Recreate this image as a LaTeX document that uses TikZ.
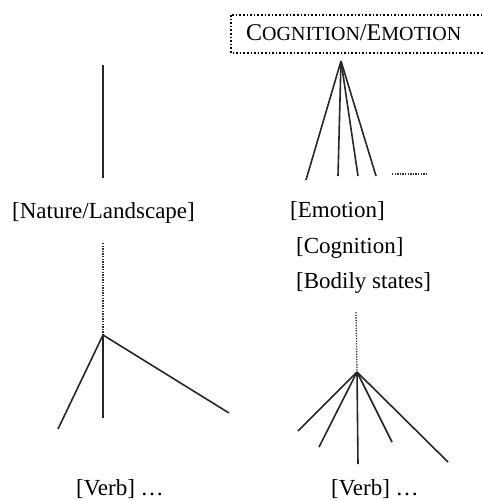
\documentclass[tikz,border=0pt]{standalone}
\usepackage{fontspec}
\setmainfont{Liberation Serif}
\begin{document}
\begin{tikzpicture}[x=1pt,y=-1pt,
    branch/.style={line width=1.6pt, black!85},
    trunk/.style={line width=1.3pt, dash pattern=on 1.3pt off 1.3pt, black!80},
    lbl/.style={font=\fontsize{23}{27}\selectfont, anchor=base west, inner sep=0pt}]
    \useasboundingbox (0,0) rectangle (483,501);

    % Left column: Nature/Landscape
    \coordinate (nt) at (103,65); \coordinate (nb) at (103,178);
    \draw[branch] (nt)--(nb);
    \node[lbl] (nature) at (12,218) {[Nature/Landscape]};

    % Left verb tree
    \coordinate (lt) at (103,243); \coordinate (la) at (103,335);
    \coordinate (l1) at (58,429); \coordinate (l2) at (103,418); \coordinate (l3) at (229,413);
    \draw[trunk] (lt)--(la);
    \draw[branch] (l1)--(la)--(l3);
    \draw[branch] (la)--(l2);
    \node[lbl] (verbl) at (76,495) {[Verb] \dots};

    % Right column: Cognition/Emotion box and its fan
    \draw[line width=1.6pt, dash pattern=on 1.6pt off 2pt] (231,15) rectangle (495,53);
    \node[lbl] (cogemo) at (246,40) {\fontsize{24}{27}\selectfont C\fontsize{20}{23}\selectfont OGNITION\fontsize{24}{27}\selectfont/E\fontsize{20}{23}\selectfont MOTION};
    \coordinate (ca) at (341,61);
    \coordinate (c1) at (306,180); \coordinate (c2) at (338,176);
    \coordinate (c3) at (358,176); \coordinate (c4) at (376,176);
    \foreach \e in {c1,c2,c3,c4} \draw[branch] (ca)--(\e);
    \coordinate (ds) at (392,174); \coordinate (de) at (428,174);
    \draw[trunk] (ds)--(de); % more to come

    \node[lbl] (emo) at (290,217) {[Emotion]};
    \node[lbl] (cog) at (296,253) {[Cognition]};
    \node[lbl] (body) at (296,288) {[Bodily states]};

    % Right verb tree
    \coordinate (rt) at (356,312); \coordinate (ra) at (357,372);
    \coordinate (r1) at (298,431); \coordinate (r2) at (319,447); \coordinate (r3) at (358,464);
    \coordinate (r4) at (392,442); \coordinate (r5) at (448,462);
    \draw[trunk] (rt)--(ra);
    \foreach \e in {r1,r2,r3,r4,r5} \draw[branch] (ra)--(\e);
    \node[lbl] (verbr) at (331,495) {[Verb] \dots};
\end{tikzpicture}
\end{document}
